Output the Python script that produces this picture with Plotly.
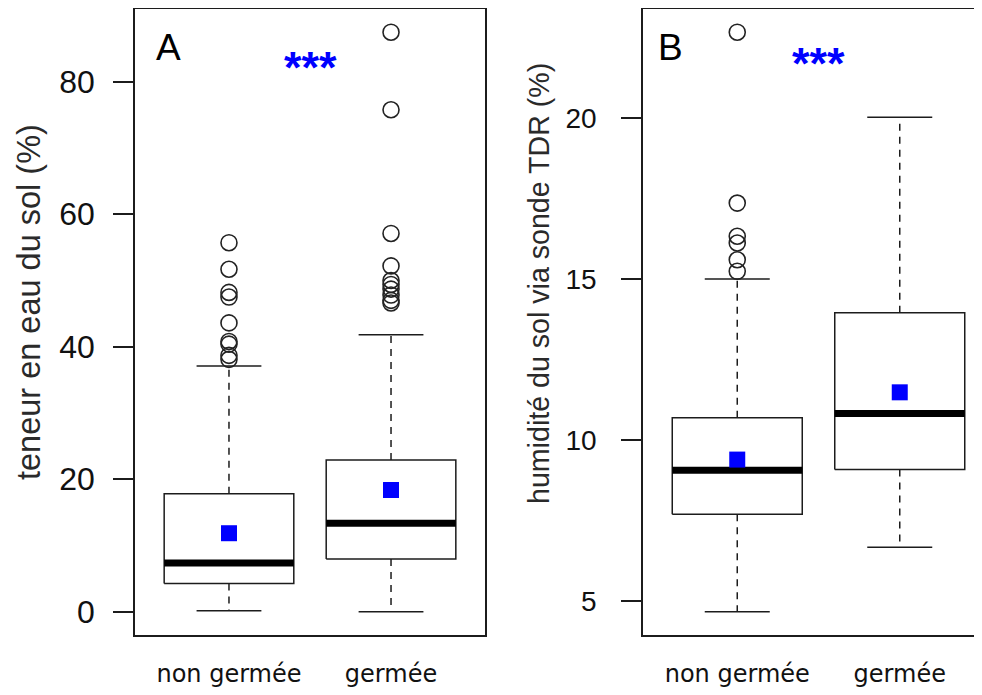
import plotly.graph_objects as go

# ---------------- data ----------------
categories = ["non germée", "germée"]

# Panel A : teneur en eau du sol (%)
A_q1 = [4.27, 7.98]
A_median = [7.38, 13.36]
A_q3 = [17.8, 22.9]
A_lower = [0.15, 0.0]
A_upper = [37.1, 41.8]
A_mean = [11.86, 18.38]
A_out_non = [55.7, 51.7, 48.2, 47.5, 43.6, 40.8, 40.4, 38.7, 38.1]
A_out_germ = [87.47, 75.76, 57.1, 52.2, 50.0, 49.4, 48.7, 47.8, 47.0, 46.6]
A_ticks = [0, 20, 40, 60, 80]

# Panel B : humidité du sol via sonde TDR (%)
B_q1 = [7.70, 9.09]
B_median = [9.07, 10.83]
B_q3 = [10.70, 13.96]
B_lower = [4.67, 6.68]
B_upper = [15.01, 20.04]
B_mean = [9.40, 11.49]
B_out_non = [22.68, 17.37, 16.34, 16.13, 15.61, 15.25]
B_out_germ = []
B_ticks = [5, 10, 15, 20]

A_title = "teneur en eau du sol (%)"
B_title = "humidité du sol via sonde TDR (%)"
signif = "***"

# ---------------- layout geometry ----------------
# the page body keeps its default 8px margin, so the figure is made
# 16px smaller than the window and positions are given in page pixels
PAGE_W, PAGE_H = 982, 695
OFF = 8
W, H = PAGE_W - 2 * OFF, PAGE_H - 2 * OFF


def fx(px):  # page x -> paper fraction
    return (px - OFF) / W


TOP_P, BOT_P = 9.0, 635.0          # frame top / bottom on the page
TOP, BOT = TOP_P - OFF, BOT_P - OFF  # in figure pixels
PH = BOT - TOP


def fy(py):  # page y -> fraction of plot height
    return (BOT_P - py) / PH


INK = "#1c1c1c"
LW = 1.5
HALF = 0.4      # half box width (R boxwex 0.8)
CAP = 0.2       # half staple width

fig = go.Figure()


def add_panel(xa, ya, q1, med, q3, lo, up, mean, outs):
    for i in range(len(categories)):
        c = i + 1
        fig.add_trace(go.Scatter(
            x=[c - HALF, c + HALF, c + HALF, c - HALF, c - HALF],
            y=[q1[i], q1[i], q3[i], q3[i], q1[i]],
            mode="lines", line=dict(color=INK, width=LW),
            fill="toself", fillcolor="white",
            xaxis=xa, yaxis=ya, hoverinfo="skip", showlegend=False))
        for a, b in ((q3[i], up[i]), (q1[i], lo[i])):
            fig.add_trace(go.Scatter(
                x=[c, c], y=[a, b], mode="lines",
                line=dict(color=INK, width=LW, dash="7px,6px"),
                xaxis=xa, yaxis=ya, hoverinfo="skip", showlegend=False))
        for v in (up[i], lo[i]):
            fig.add_trace(go.Scatter(
                x=[c - CAP, c + CAP], y=[v, v], mode="lines",
                line=dict(color=INK, width=LW),
                xaxis=xa, yaxis=ya, hoverinfo="skip", showlegend=False))
        fig.add_trace(go.Scatter(
            x=[c - HALF, c + HALF], y=[med[i], med[i]], mode="lines",
            line=dict(color="black", width=7),
            xaxis=xa, yaxis=ya, hoverinfo="skip", showlegend=False))
        if outs[i]:
            fig.add_trace(go.Scatter(
                x=[c] * len(outs[i]), y=outs[i], mode="markers",
                marker=dict(symbol="circle-open", size=16, color="#222222",
                            line=dict(color="#222222", width=1.6)),
                xaxis=xa, yaxis=ya, hoverinfo="skip", showlegend=False))
    fig.add_trace(go.Scatter(
        x=list(range(1, len(categories) + 1)), y=mean, mode="markers",
        marker=dict(symbol="square", size=16, color="#0000FF",
                    line=dict(width=0)),
        xaxis=xa, yaxis=ya, hoverinfo="skip", showlegend=False))


add_panel("x", "y", A_q1, A_median, A_q3, A_lower, A_upper, A_mean,
          [A_out_non, A_out_germ])
add_panel("x2", "y2", B_q1, B_median, B_q3, B_lower, B_upper, B_mean,
          [B_out_non, B_out_germ])


def r_range(vals):
    lo, hi = min(vals), max(vals)
    d = (hi - lo) * 0.04
    return [lo - d, hi + d]


A_all = A_lower + A_upper + A_out_non + A_out_germ
B_all = B_lower + B_upper + B_out_non + B_out_germ

A_left, A_right, B_left = 135, 485, 643
B_xmax = 0.42 + (OFF + W - B_left) / 162.5

common_x = dict(showgrid=False, zeroline=False, showline=True, mirror=True,
                linecolor=INK, linewidth=LW, ticks="",
                tickvals=[1, 2], ticktext=categories,
                tickfont=dict(family="DejaVu Sans", size=24, color="#111111"),
                ticklabelstandoff=16)

fig.update_layout(
    width=W, height=H,
    margin=dict(l=0, r=0, t=TOP, b=H - BOT, autoexpand=False),
    paper_bgcolor="white", plot_bgcolor="white",
    showlegend=False,
    xaxis=dict(domain=[fx(A_left), fx(A_right)], range=[0.42, 2.58],
               anchor="y", **common_x),
    xaxis2=dict(domain=[fx(B_left), 1.0], range=[0.42, B_xmax],
                anchor="y2", **common_x),
    yaxis=dict(domain=[0, 1], range=r_range(A_all), anchor="x",
               showgrid=False, zeroline=False, showline=True, mirror=True,
               linecolor=INK, linewidth=LW, ticks="outside", ticklen=20,
               tickwidth=LW, tickcolor=INK, tickvals=A_ticks,
               tickfont=dict(family="Liberation Sans", size=32, color="#111111"),
               ticklabelstandoff=12),
    yaxis2=dict(domain=[0, 1], range=r_range(B_all), anchor="x2",
                showgrid=False, zeroline=False, showline=True, mirror=False,
                linecolor=INK, linewidth=LW, ticks="outside", ticklen=20,
                tickwidth=LW, tickcolor=INK, tickvals=B_ticks,
                tickfont=dict(family="Liberation Sans", size=28, color="#111111"),
                ticklabelstandoff=19),
)

annots = [
    dict(text=A_title, textangle=-90, xref="paper", yref="paper",
         x=fx(29), y=fy(302), xanchor="center", yanchor="middle",
         showarrow=False,
         font=dict(family="Liberation Sans", size=32.5, color="#2a2a2a")),
    dict(text=B_title, textangle=-90, xref="paper", yref="paper",
         x=fx(539), y=fy(284), xanchor="center", yanchor="middle",
         showarrow=False,
         font=dict(family="Liberation Sans", size=28.6, color="#2a2a2a")),
    dict(text="A", xref="paper", yref="paper",
         x=fx(168), y=fy(47), xanchor="center", yanchor="middle",
         showarrow=False,
         font=dict(family="Liberation Sans", size=37, color="black")),
    dict(text="B", xref="paper", yref="paper",
         x=fx(670), y=fy(47), xanchor="center", yanchor="middle",
         showarrow=False,
         font=dict(family="Liberation Sans", size=37, color="black")),
    dict(text="<b>" + signif + "</b>", xref="x", yref="paper",
         x=1.5, y=fy(68), xanchor="center", yanchor="middle",
         showarrow=False,
         font=dict(family="Liberation Sans", size=45, color="#0000FF")),
    dict(text="<b>" + signif + "</b>", xref="x2", yref="paper",
         x=1.5, y=fy(63), xanchor="center", yanchor="middle",
         showarrow=False,
         font=dict(family="Liberation Sans", size=45, color="#0000FF")),
]
fig.update_layout(annotations=annots)

fig.write_html("out.html")
